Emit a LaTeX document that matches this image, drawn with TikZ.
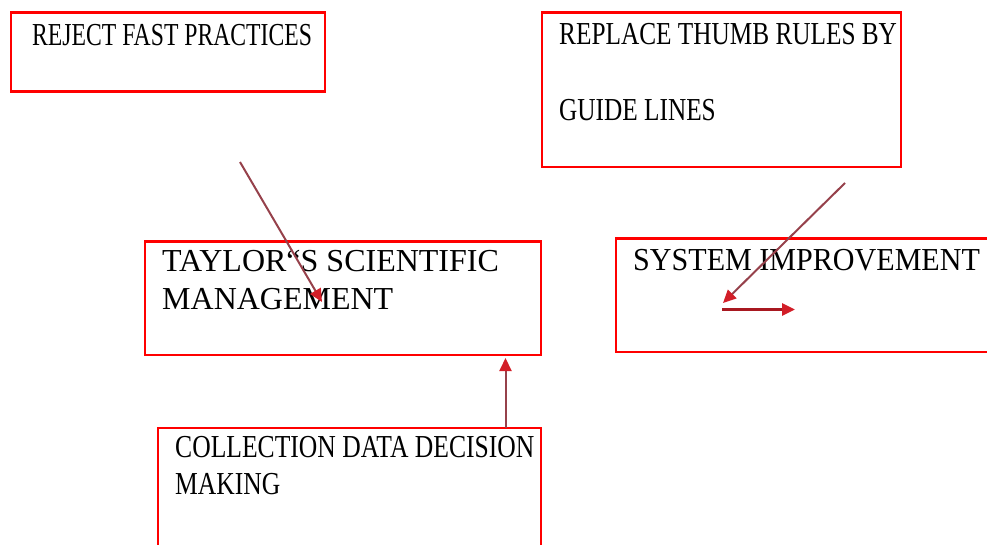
\documentclass[tikz,border=0pt]{standalone}
\usepackage{fontspec}
\usepackage{graphicx}
\setmainfont{Liberation Serif}
\usetikzlibrary{arrows.meta,positioning}

\definecolor{boxred}{RGB}{255,0,0}
\definecolor{shaft}{RGB}{150,65,75}
\definecolor{tipred}{RGB}{210,30,40}

% squeeze a line of text sideways
\newcommand\squeeze[2]{\scalebox{#1}[1]{#2}}

\tikzset{
  box/.style={draw=boxred, line width=2.2pt, anchor=north west, inner sep=0pt},
  lbl/.style={anchor=base west, inner sep=0pt, align=left,
              font=\fontsize{32}{38}\selectfont},
  link/.style={line width=2pt, draw=shaft,
               -{Triangle[length=13pt,width=12pt,color=tipred]}}
}

\begin{document}
\begin{tikzpicture}[x=1pt,y=-1pt]
  \useasboundingbox (0,0) rectangle (987,545);
  \clip (0,0) rectangle (987,545);
  % boxes
  \node[box, minimum width=313.5pt, minimum height=79pt] (rejectbox) at (10,11.5) {};
  \node[box, minimum width=359.5pt, minimum height=154.5pt] (thumbbox) at (540.5,11.5) {};
  \node[box, minimum width=396pt, minimum height=113pt] (taylorbox) at (143.5,240.5) {};
  \node[box, minimum width=385.5pt, minimum height=113.5pt] (systembox) at (614.5,237.5) {};
  \node[box, minimum width=382.5pt, minimum height=173pt] (collectbox) at (157,427) {};
  % texts (base = last line)
  \node[lbl] (rejecttext) at ([shift={(22,34.5)}]rejectbox.north west)
    {\squeeze{0.74}{REJECT FAST PRACTICES}};
  \node[lbl] (thumbtext) at ([shift={(18.5,109.5)}]thumbbox.north west)
    {\squeeze{0.79}{REPLACE THUMB RULES BY}\\[38pt]\squeeze{0.79}{GUIDE LINES}};
  \node[lbl] (taylortext) at ([shift={(18.5,68.5)}]taylorbox.north west)
    {TAYLOR“S SCIENTIFIC\\MANAGEMENT};
  \node[lbl] (systemtext) at ([shift={(18.5,32.5)}]systembox.north west)
    {\squeeze{0.94}{SYSTEM IMPROVEMENT}};
  \node[lbl] (collecttext) at ([shift={(18,67)}]collectbox.north west)
    {\squeeze{0.8}{COLLECTION DATA DECISION}\\[-1pt]\squeeze{0.8}{MAKING}};
  % arrow end points
  \coordinate (rejecttail) at (240,162);
  \coordinate (rejecthead) at (322,302);
  \coordinate (thumbtail) at (845,183);
  \coordinate (thumbhead) at (723,303);
  \coordinate (systail) at (722,309.5);
  \coordinate (syshead) at (795,309.5);
  \coordinate (collecttail) at (505.5,428);
  \coordinate (collecthead) at (505.5,358);
  % arrows
  \draw[link] (rejecttail) -- (rejecthead);
  \draw[link] (thumbtail) -- (thumbhead);
  \draw[link, line width=3pt, draw=tipred!80!black] (systail) -- (syshead);
  \draw[link] (collecttail) -- (collecthead);
\end{tikzpicture}
\end{document}
